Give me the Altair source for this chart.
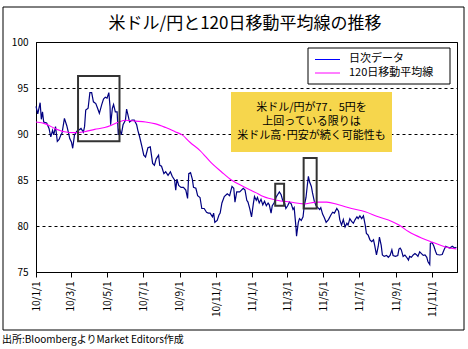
import altair as alt
import pandas as pd

FONT = "Noto Sans CJK JP"

title_text = "米ドル/円と120日移動平均線の推移"
legend_labels = ["日次データ", "120日移動平均線"]
note_lines = ["米ドル/円が77．5円を", "上回っている限りは", "米ドル高･円安が続く可能性も"]
source_text = "出所:BloombergよりMarket Editors作成"

daily_dates = [
    "2010-01-01", "2010-01-04", "2010-01-08", "2010-01-10", "2010-01-12", "2010-01-14", "2010-01-19",
    "2010-01-23", "2010-01-26", "2010-01-29", "2010-01-31", "2010-02-03", "2010-02-06", "2010-02-09",
    "2010-02-12", "2010-02-14", "2010-02-18", "2010-02-22", "2010-02-25", "2010-02-27", "2010-03-02",
    "2010-03-04", "2010-03-07", "2010-03-11", "2010-03-14", "2010-03-18", "2010-03-22", "2010-03-24",
    "2010-03-26", "2010-03-30", "2010-04-02", "2010-04-05", "2010-04-08", "2010-04-12", "2010-04-15",
    "2010-04-18", "2010-04-22", "2010-04-25", "2010-04-28", "2010-05-01", "2010-05-04", "2010-05-06",
    "2010-05-07", "2010-05-10", "2010-05-12", "2010-05-15", "2010-05-18", "2010-05-20", "2010-05-22",
    "2010-05-25", "2010-05-28", "2010-06-01", "2010-06-03", "2010-06-06", "2010-06-08", "2010-06-12",
    "2010-06-16", "2010-06-20", "2010-06-22", "2010-06-25", "2010-06-29", "2010-07-02", "2010-07-05",
    "2010-07-09", "2010-07-13", "2010-07-17", "2010-07-20", "2010-07-23", "2010-07-27", "2010-07-29",
    "2010-08-01", "2010-08-05", "2010-08-08", "2010-08-12", "2010-08-16", "2010-08-19", "2010-08-23",
    "2010-08-25", "2010-08-27", "2010-08-30", "2010-09-03", "2010-09-07", "2010-09-11", "2010-09-14",
    "2010-09-16", "2010-09-19", "2010-09-22", "2010-09-24", "2010-09-28", "2010-10-01", "2010-10-05",
    "2010-10-08", "2010-10-12", "2010-10-16", "2010-10-19", "2010-10-22", "2010-10-26", "2010-10-28",
    "2010-10-30", "2010-11-03", "2010-11-06", "2010-11-08", "2010-11-11", "2010-11-15", "2010-11-20",
    "2010-11-24", "2010-11-28", "2010-12-01", "2010-12-03", "2010-12-06", "2010-12-11", "2010-12-17",
    "2010-12-20", "2010-12-23", "2010-12-25", "2010-12-28", "2010-12-31",
    "2011-01-03", "2011-01-05", "2011-01-08", "2011-01-10", "2011-01-13", "2011-01-16", "2011-01-19",
    "2011-01-22", "2011-01-25", "2011-01-28", "2011-01-30", "2011-02-02", "2011-02-04", "2011-02-07",
    "2011-02-11", "2011-02-13", "2011-02-16", "2011-02-19", "2011-02-22", "2011-02-25", "2011-02-27",
    "2011-03-02", "2011-03-05", "2011-03-08", "2011-03-11", "2011-03-13", "2011-03-16", "2011-03-17",
    "2011-03-20", "2011-03-22", "2011-03-25", "2011-03-28", "2011-03-30", "2011-04-02", "2011-04-04",
    "2011-04-06", "2011-04-08", "2011-04-11", "2011-04-13", "2011-04-16", "2011-04-19", "2011-04-22",
    "2011-04-25", "2011-04-27", "2011-04-30", "2011-05-03", "2011-05-06", "2011-05-10", "2011-05-14",
    "2011-05-17", "2011-05-20", "2011-05-24", "2011-05-27", "2011-05-29", "2011-06-01", "2011-06-04",
    "2011-06-07", "2011-06-10", "2011-06-12", "2011-06-15", "2011-06-18", "2011-06-21", "2011-06-24",
    "2011-06-27", "2011-06-29", "2011-07-02", "2011-07-05", "2011-07-08", "2011-07-11", "2011-07-13",
    "2011-07-16", "2011-07-19", "2011-07-22", "2011-07-25", "2011-07-27", "2011-07-30", "2011-08-02",
    "2011-08-04", "2011-08-07", "2011-08-09", "2011-08-12", "2011-08-16", "2011-08-19", "2011-08-22",
    "2011-08-25", "2011-08-27", "2011-08-31", "2011-09-04", "2011-09-06", "2011-09-08", "2011-09-10",
    "2011-09-13", "2011-09-16", "2011-09-19", "2011-09-22", "2011-09-24", "2011-09-27", "2011-09-30",
    "2011-10-03", "2011-10-06", "2011-10-08", "2011-10-11", "2011-10-14", "2011-10-17", "2011-10-20",
    "2011-10-23", "2011-10-25", "2011-10-28", "2011-10-29", "2011-11-01", "2011-11-04", "2011-11-07",
    "2011-11-09", "2011-11-14", "2011-11-18", "2011-11-21", "2011-11-24", "2011-11-27", "2011-12-01",
    "2011-12-05", "2011-12-09", "2011-12-12",
]
daily_values = [
    93.0, 92.2, 93.4, 91.6, 92.4, 91.3, 91.2,
    90.6, 89.7, 90.4, 89.9, 90.8, 89.2, 89.4,
    89.9, 90.1, 91.7, 90.9, 90.1, 89.5, 89.1,
    88.45, 89.9, 90.3, 90.4, 90.6, 90.2, 90.8,
    92.6, 92.8, 94.5, 94.5, 93.5, 93.3, 92.8,
    92.25, 93.2, 93.8, 94.0, 93.9, 94.5, 93.0,
    91.0, 92.8, 93.2, 92.4, 92.4, 89.9, 90.6,
    89.9, 91.0, 91.5, 92.7, 91.9, 91.3, 91.5,
    91.5, 91.0, 90.4, 89.7, 88.6, 87.7, 87.5,
    88.5, 88.6, 86.8, 86.6, 87.3, 87.7, 86.6,
    86.5, 85.7, 85.9, 85.5, 85.9, 85.4, 85.0,
    83.9, 85.1, 84.4, 84.2, 84.2, 83.9, 83.0,
    85.7, 85.8, 85.1, 84.2, 84.1, 83.3, 83.1,
    81.9, 81.9, 81.5, 81.4, 81.4, 81.0, 81.4,
    80.4, 80.6, 81.2, 81.4, 82.5, 83.2, 83.5,
    83.3, 84.3, 84.1, 82.6, 83.7, 83.7, 84.1,
    83.9, 82.8, 82.6, 81.9, 81.0,
    82.4, 83.2, 82.8, 83.1, 82.5, 82.9, 82.3,
    82.7, 82.2, 82.5, 82.3, 81.4, 82.2, 82.5,
    83.2, 83.4, 83.7, 83.4, 82.7, 82.5, 81.9,
    82.2, 82.6, 82.4, 81.8, 82.0, 79.9, 78.9,
    80.4, 80.8, 80.6, 81.0, 82.2, 83.1, 84.3,
    85.4, 84.8, 84.3, 83.6, 82.7, 82.2, 82.0,
    81.8, 82.0, 81.3, 80.9, 80.4, 80.7, 81.2,
    81.5, 81.4, 81.9, 81.6, 80.7, 80.1, 80.7,
    79.9, 80.3, 80.1, 80.8, 80.5, 80.3, 80.7,
    81.0, 80.8, 81.1, 80.8, 81.1, 80.1, 79.2,
    79.0, 78.5, 78.3, 78.5, 77.9, 76.85, 77.8,
    78.8, 77.9, 76.85, 76.7, 76.8, 76.6, 76.8,
    77.4, 76.8, 76.7, 76.8, 77.5, 77.6, 77.4,
    76.7, 76.85, 76.6, 76.3, 76.7, 76.6, 76.85,
    77.0, 76.85, 76.7, 77.2, 77.0, 76.8, 76.85,
    76.6, 76.1, 75.8, 78.1, 78.2, 77.8, 77.2,
    76.9, 76.85, 76.9, 77.4, 77.8, 77.7, 77.6,
    77.8, 77.6, 77.7,
]

ma_dates = [
    "2010-01-01", "2010-01-17", "2010-02-02", "2010-02-18", "2010-03-07", "2010-03-24", "2010-04-10",
    "2010-04-27", "2010-05-10", "2010-05-21", "2010-06-01", "2010-06-18", "2010-07-05", "2010-07-22",
    "2010-08-08", "2010-08-24", "2010-09-05", "2010-09-18", "2010-10-05", "2010-10-25", "2010-11-10",
    "2010-11-27", "2010-12-17", "2011-01-08", "2011-01-20", "2011-02-12", "2011-03-06", "2011-03-29",
    "2011-04-20", "2011-05-07", "2011-05-27", "2011-06-18", "2011-07-11", "2011-08-02", "2011-08-25",
    "2011-09-06", "2011-09-22", "2011-10-14", "2011-11-03", "2011-11-22", "2011-12-12",
]
ma_values = [
    91.3, 91.1, 90.6, 90.25, 90.15, 90.25, 90.5,
    90.7, 91.0, 91.3, 91.5, 91.4, 91.3, 91.1,
    90.7, 90.25, 89.9, 89.1, 88.2, 86.8, 85.9,
    85.0, 84.3, 83.6, 83.2, 82.8, 82.6, 82.4,
    82.6, 82.6, 82.3, 81.9, 81.55, 81.0, 80.5,
    80.1, 79.4, 78.7, 78.2, 77.75, 77.5,
]

tick_dates = ["2010-01-01", "2010-03-01", "2010-05-01", "2010-07-01", "2010-09-01", "2010-11-01",
              "2011-01-01", "2011-03-01", "2011-05-01", "2011-07-01", "2011-09-01", "2011-11-01"]
x_range = ["2010-01-01", "2011-12-13"]
y_ticks = [75, 80, 85, 90, 95, 100]

box_start = ["2010-03-13", "2011-02-09", "2011-03-29"]
box_end = ["2010-05-22", "2011-02-24", "2011-04-20"]
box_low = [89.2, 82.2, 81.9]
box_high = [96.3, 84.6, 87.4]


def dt(s):
    y, m, d = (int(p) for p in s.split("-"))
    return alt.DateTime(year=y, month=m, date=d, utc=True)


daily_df = pd.DataFrame({"date": daily_dates, "value": daily_values})
ma_df = pd.DataFrame({"date": ma_dates, "value": ma_values})
box_df = pd.DataFrame({"start": box_start, "end": box_end, "low": box_low, "high": box_high})
one = pd.DataFrame({"k": [0]})

x_scale = alt.Scale(type="utc", domain=[dt(x_range[0]), dt(x_range[1])])
y_scale = alt.Scale(domain=[75, 100], nice=False, zero=False)

x_axis = alt.Axis(
    values=[dt(s) for s in tick_dates],
    labelExpr="utcFormat(datum.value, '%y/%-m/%-d')",
    labelAngle=-90, labelFontSize=10, labelPadding=4, labelFont=FONT, labelColor="black",
    tickSize=5, tickColor="black", domainColor="black", grid=False, title=None,
)
y_axis = alt.Axis(
    values=y_ticks, labelFontSize=10, labelPadding=8, labelFont=FONT, labelColor="black",
    tickSize=0, domainColor="black", grid=True, gridColor="black", gridDash=[3, 3],
    gridWidth=1, title=None,
)

frame = alt.Chart(one).mark_rect(fillOpacity=0, stroke="black", strokeWidth=1).encode(
    x=alt.value(-33), x2=alt.value(428), y=alt.value(-35), y2=alt.value(288)
)

title = alt.Chart(one).mark_text(font=FONT, fontSize=17, align="center", baseline="middle", color="black").encode(
    x=alt.value(209), y=alt.value(-18), text=alt.value(title_text)
)

source = alt.Chart(one).mark_text(font=FONT, fontSize=10, align="left", baseline="middle", color="black").encode(
    x=alt.value(-34), y=alt.value(298), text=alt.value(source_text)
)

daily_line = alt.Chart(daily_df).mark_line(color="#000080", strokeWidth=1.2).encode(
    x=alt.X("date:T", scale=x_scale, axis=x_axis),
    y=alt.Y("value:Q", scale=y_scale, axis=y_axis),
)

ma_line = alt.Chart(ma_df).mark_line(color="#FF00FF", strokeWidth=1.1, interpolate="monotone").encode(
    x=alt.X("date:T", scale=x_scale, axis=x_axis),
    y=alt.Y("value:Q", scale=y_scale, axis=y_axis),
)

boxes = alt.Chart(box_df).mark_rect(fillOpacity=0, stroke="#333333", strokeWidth=2).encode(
    x=alt.X("start:T", scale=x_scale, axis=x_axis),
    x2="end:T",
    y=alt.Y("low:Q", scale=y_scale, axis=y_axis),
    y2="high:Q",
)

legend_box = alt.Chart(one).mark_rect(fill="white", stroke="black", strokeWidth=1).encode(
    x=alt.value(272), x2=alt.value(414), y=alt.value(6), y2=alt.value(42)
)
legend_l1 = alt.Chart(one).mark_rule(color="#0000FF", strokeWidth=1).encode(
    x=alt.value(279), x2=alt.value(304), y=alt.value(17.5)
)
legend_l2 = alt.Chart(one).mark_rule(color="#FF00FF", strokeWidth=1).encode(
    x=alt.value(279), x2=alt.value(304), y=alt.value(31)
)
legend_t1 = alt.Chart(one).mark_text(font=FONT, fontSize=11, align="left", baseline="middle", color="black").encode(
    x=alt.value(313), y=alt.value(17), text=alt.value(legend_labels[0])
)
legend_t2 = alt.Chart(one).mark_text(font=FONT, fontSize=11, align="left", baseline="middle", color="black").encode(
    x=alt.value(313), y=alt.value(30.5), text=alt.value(legend_labels[1])
)

note_box = alt.Chart(one).mark_rect(fill="#F6D64C").encode(
    x=alt.value(195), x2=alt.value(356), y=alt.value(50), y2=alt.value(110)
)
note_text = alt.Chart(one).mark_text(
    font=FONT, fontSize=11, align="center", baseline="middle", color="black",
    lineBreak="\n", lineHeight=14,
).encode(
    x=alt.value(275.5), y=alt.value(66), text=alt.value("\n".join(note_lines))
)

chart = alt.layer(
    frame, title, source, daily_line, ma_line, boxes,
    legend_box, legend_l1, legend_l2, legend_t1, legend_t2, note_box, note_text,
).properties(
    width=421, height=230,
    autosize=alt.AutoSizeParams(type="none"),
    padding={"left": 36, "top": 42, "right": 11, "bottom": 77},
    background="white",
).configure_view(stroke="black", strokeWidth=1)

chart.save("out.html", embed_options={"renderer": "svg", "actions": False})
